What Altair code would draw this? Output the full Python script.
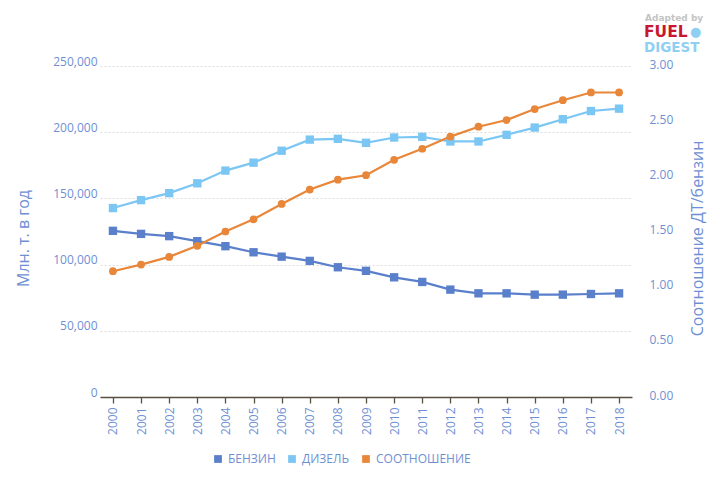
import altair as alt
import pandas as pd

years = [str(y) for y in range(2000, 2019)]
benzin = [125500, 123200, 121500, 117700, 113900, 109300, 106000, 102800, 98000, 95300,
          90400, 86900, 81100, 78300, 78300, 77300, 77300, 77800, 78300]
dizel = [142700, 148700, 154000, 161400, 171000, 177000, 186000, 194400, 195000, 192000,
         196000, 196500, 193000, 193000, 198000, 203500, 209800, 216000, 217800]
ratio = [1.14, 1.20, 1.27, 1.37, 1.50, 1.61, 1.75, 1.88, 1.97, 2.01,
         2.15, 2.25, 2.36, 2.45, 2.51, 2.61, 2.69, 2.76, 2.76]

series_names = ["БЕНЗИН", "ДИЗЕЛЬ", "СООТНОШЕНИЕ"]
series_colors = ["#5A7FCB", "#7CC6F4", "#E8873A"]

fuel = pd.DataFrame({
    "year": years * 2,
    "value": benzin + dizel,
    "series": [series_names[0]] * len(years) + [series_names[1]] * len(years),
})
rat = pd.DataFrame({"year": years, "value": ratio, "series": series_names[2]})

FONT = "Open Sans"
TXT = "#6F8FD3"

color = alt.Color(
    "series:N",
    scale=alt.Scale(domain=series_names, range=series_colors),
    legend=alt.Legend(
        title=None, orient="none", direction="horizontal", legendX=112, legendY=387,
        symbolType="square", symbolSize=60, symbolStrokeWidth=0, labelColor=TXT,
        labelFont=FONT, labelFontSize=12, columnPadding=10, symbolOpacity=1,
    ),
)

xenc = alt.X(
    "year:O",
    sort=years,
    scale=alt.Scale(type="point", padding=0.46),
    axis=alt.Axis(
        title=None, labelAngle=270, labelAlign="right", labelBaseline="middle",
        labelColor=TXT, labelFont=FONT, labelFontSize=12, labelPadding=4,
        domainColor="#5A4F43", domainWidth=1.3, tickColor="#5A4F43", tickSize=6,
        tickWidth=1.3, grid=False,
    ),
)

left_axis = alt.Axis(
    title="Млн. т. в год", titleColor=TXT, titleFont=FONT, titleFontSize=16,
    titleFontWeight="normal", titleX=-69, titleY=172, titleAngle=270,
    labelColor=TXT, labelFont=FONT, labelFontSize=12, labelPadding=3, labelOffset=-5,
    values=[0, 50000, 100000, 150000, 200000, 250000], format=",d",
    ticks=False, domain=False, grid=True, gridColor="#DCDCDC", gridDash=[2, 2],
)

right_axis = alt.Axis(
    title="Соотношение ДТ/бензин", titleColor=TXT, titleFont=FONT, titleFontSize=16,
    titleFontWeight="normal", titleX=73, titleY=172, titleAngle=270,
    labelColor=TXT, labelFont=FONT, labelFontSize=12, labelPadding=17, labelOffset=-2,
    values=[0, 0.5, 1, 1.5, 2, 2.5, 3], format=".2f", orient="right",
    ticks=False, domain=False, grid=False,
)

fuel_line = alt.Chart(fuel).mark_line(strokeWidth=2.2).encode(
    x=xenc,
    y=alt.Y("value:Q", scale=alt.Scale(domain=[0, 250000], nice=False), axis=left_axis),
    color=color,
)
fuel_pts = alt.Chart(fuel).mark_point(shape="square", filled=True, size=70, opacity=1).encode(
    x=xenc, y=alt.Y("value:Q"), color=color,
)
rat_line = alt.Chart(rat).mark_line(strokeWidth=2.2).encode(
    x=xenc,
    y=alt.Y("value:Q", scale=alt.Scale(domain=[0, 3], nice=False), axis=right_axis),
    color=color,
)
rat_pts = alt.Chart(rat).mark_point(shape="circle", filled=True, size=60, opacity=1).encode(
    x=xenc, y=alt.Y("value:Q"), color=color,
)

left = alt.layer(fuel_line, fuel_pts)
right = alt.layer(rat_line, rat_pts)

LOGO_FONT = "DejaVu Sans"
logo1 = alt.Chart(pd.DataFrame({"t": ["Adapted by"]})).mark_text(
    font=LOGO_FONT, fontSize=9, fontWeight="bold", color="#C4C4C4", align="left", baseline="middle"
).encode(x=alt.value(545), y=alt.value(-48), text="t:N")
logo2 = alt.Chart(pd.DataFrame({"t": ["FUEL"]})).mark_text(
    font=LOGO_FONT, fontSize=15.5, fontWeight="bold", color="#C8182F", align="left", baseline="middle"
).encode(x=alt.value(544), y=alt.value(-34.5), text="t:N")
logo3 = alt.Chart(pd.DataFrame({"t": ["DIGEST"]})).mark_text(
    font=LOGO_FONT, fontSize=13.5, fontWeight="bold", color="#8FD0F2", align="left", baseline="middle"
).encode(x=alt.value(544), y=alt.value(-18), text="t:N")
logo4 = alt.Chart(pd.DataFrame({"t": ["●"]})).mark_text(
    font=LOGO_FONT, fontSize=13, color="#8FD0F2", align="left", baseline="middle"
).encode(x=alt.value(590), y=alt.value(-34.5), text="t:N")

chart = alt.layer(left, right, logo1, logo2, logo3, logo4).resolve_scale(
    y="independent"
).properties(
    width=532, height=331,
    autosize=alt.AutoSizeParams(type="none"),
    padding={"left": 92, "top": 58, "right": 80, "bottom": 70},
).configure_view(stroke=None)

chart.save("out.html", embed_options={"renderer": "svg", "actions": False})
